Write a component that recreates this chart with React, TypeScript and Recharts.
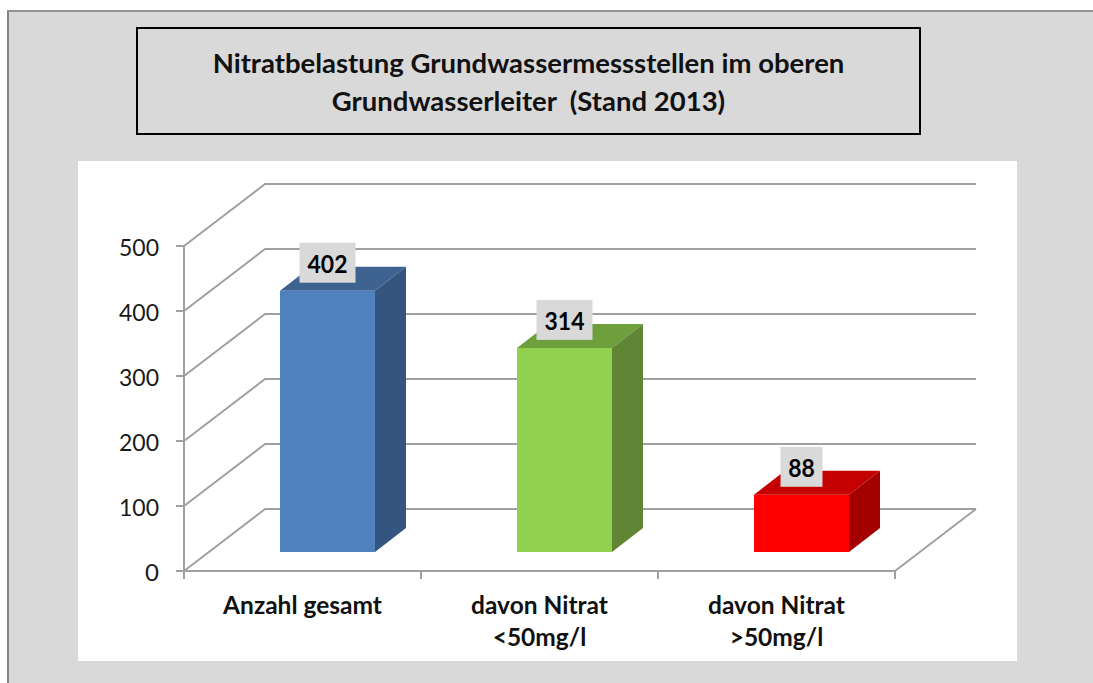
import { BarChart, Bar, XAxis, YAxis, CartesianGrid, LabelList } from "recharts";

const categories = ["Anzahl gesamt", "davon Nitrat\n<50mg/l", "davon Nitrat\n>50mg/l"];
const counts = [402, 314, 88];
const yTicks = [0, 100, 200, 300, 400, 500];
const titleLines = ["Nitratbelastung Grundwassermessstellen im oberen", "Grundwasserleiter  (Stand 2013)"];

const data = categories.map((name, i) => ({ name, count: counts[i] }));

const FONT = "Lato, sans-serif";
const GRID = "#a0a0a0";
const faceColors = ["#4f81bd", "#92d050", "#ff0000"];
const topColors = ["#3e6390", "#6f9e3d", "#c40000"];
const sideColors = ["#345580", "#5f8535", "#a50000"];

const AXIS_X = 184;
const AXIS_RIGHT = 895;
const AXIS_BOTTOM = 571;
const BACK_RIGHT = 976;
const WALL_DX = 81;
const WALL_DY = 62;
const BAR_DX = 31;
const BAR_DY = 24;
const BAR_SHIFT_X = 25;
const BAR_SHIFT_Y = -19;

// side wall and back wall lines, drawn by the grid so they stay behind the bars
const WallLine = ({ y1 }: any) => (
  <g>
    <polyline
      points={`${AXIS_X},${y1} ${AXIS_X + WALL_DX},${y1 - WALL_DY} ${BACK_RIGHT},${y1 - WALL_DY}`}
      fill="none"
      stroke={GRID}
      strokeWidth={2}
    />
    {Math.round(y1) === AXIS_BOTTOM && (
      <line x1={AXIS_RIGHT} y1={y1} x2={BACK_RIGHT} y2={y1 - WALL_DY} stroke={GRID} strokeWidth={2} />
    )}
  </g>
);

const YTick = ({ y, payload }: any) => (
  <g>
    <line x1={176} x2={AXIS_X} y1={y} y2={y} stroke={GRID} strokeWidth={2} />
    <text
      x={159}
      y={y + 10}
      textAnchor="end"
      fontFamily={FONT}
      fontSize={24}
      fill="#1a1a1a"
      textLength={String(payload.value).length > 1 ? 40 : undefined}
      lengthAdjust="spacingAndGlyphs"
    >
      {payload.value}
    </text>
  </g>
);

const XTick = ({ x, y, payload }: any) => {
  const half = 118.5;
  const lines = String(payload.value).split("\n");
  return (
    <g>
      <line x1={x - half} x2={x - half} y1={y} y2={y + 8} stroke={GRID} strokeWidth={2} />
      <line x1={x + half} x2={x + half} y1={y} y2={y + 8} stroke={GRID} strokeWidth={2} />
      {lines.map((line, i) => (
        <text
          key={line}
          x={x}
          y={614 + i * 32}
          textAnchor="middle"
          fontFamily={FONT}
          fontWeight={700}
          fontSize={24.5}
          fill="#111"
        >
          {line}
        </text>
      ))}
    </g>
  );
};

const Bar3D = ({ x, y, width, height, index }: any) => {
  const l = x + BAR_SHIFT_X;
  const r = l + width;
  const t = y + BAR_SHIFT_Y;
  const b = t + height;
  return (
    <g>
      <polygon points={`${l},${t} ${l + BAR_DX},${t - BAR_DY} ${r + BAR_DX},${t - BAR_DY} ${r},${t}`} fill={topColors[index]} />
      <polygon points={`${r},${t} ${r + BAR_DX},${t - BAR_DY} ${r + BAR_DX},${b - BAR_DY} ${r},${b}`} fill={sideColors[index]} />
      <rect x={l} y={t} width={width} height={height} fill={faceColors[index]} />
    </g>
  );
};

const ValueLabel = ({ x, y, width, value }: any) => {
  const digits = String(value).length;
  const boxW = digits > 2 ? 56 : 42;
  const cx = x + BAR_SHIFT_X + width / 2;
  const top = y + BAR_SHIFT_Y - 48;
  return (
    <g>
      <rect x={cx - boxW / 2} y={top} width={boxW} height={40} fill="#d9d9d9" />
      <text
        x={cx}
        y={top + 30}
        textAnchor="middle"
        fontFamily={FONT}
        fontWeight={700}
        fontSize={25}
        fill="#000"
        textLength={digits * 13.3}
        lengthAdjust="spacingAndGlyphs"
      >
        {value}
      </text>
    </g>
  );
};

export default function App() {
  return (
    <div style={{ position: "absolute", left: 0, top: 0, width: 1093, height: 683, background: "#fff", overflow: "hidden" }}>
      <div
        style={{
          position: "absolute",
          left: 7,
          top: 10,
          width: 1086,
          height: 673,
          boxSizing: "border-box",
          background: "#d9d9d9",
          borderLeft: "2px solid #858585",
          borderTop: "2px solid #929292",
        }}
      />
      <div
        style={{
          position: "absolute",
          left: 136,
          top: 27,
          width: 785,
          height: 108,
          boxSizing: "border-box",
          border: "2px solid #000",
          fontFamily: FONT,
          fontWeight: 700,
          fontSize: 27.5,
          lineHeight: "38px",
          textAlign: "center",
          whiteSpace: "pre",
          paddingTop: 15,
          color: "#111",
        }}
      >
        {titleLines.map((line) => (
          <div key={line}>{line}</div>
        ))}
      </div>
      <div style={{ position: "absolute", left: 78, top: 161, width: 939, height: 500, background: "#fff" }} />
      <div style={{ position: "absolute", left: 0, top: 0 }}>
        <BarChart
          width={1093}
          height={683}
          data={data}
          barSize={95}
          margin={{ top: 246, right: 198, bottom: 0, left: 0 }}
        >
          <CartesianGrid vertical={false} horizontal={<WallLine />} horizontalValues={yTicks} />
          <YAxis
            type="number"
            domain={[0, 500]}
            ticks={yTicks}
            interval={0}
            width={AXIS_X}
            axisLine={{ stroke: GRID, strokeWidth: 2 }}
            tickLine={false}
            tickSize={0}
            tick={<YTick />}
          />
          <XAxis
            dataKey="name"
            height={112}
            interval={0}
            axisLine={{ stroke: GRID, strokeWidth: 2 }}
            tickLine={false}
            tickSize={0}
            tickMargin={0}
            tick={<XTick />}
          />
          <Bar dataKey="count" isAnimationActive={false} shape={<Bar3D />}>
            <LabelList dataKey="count" content={<ValueLabel />} />
          </Bar>
        </BarChart>
      </div>
    </div>
  );
}
